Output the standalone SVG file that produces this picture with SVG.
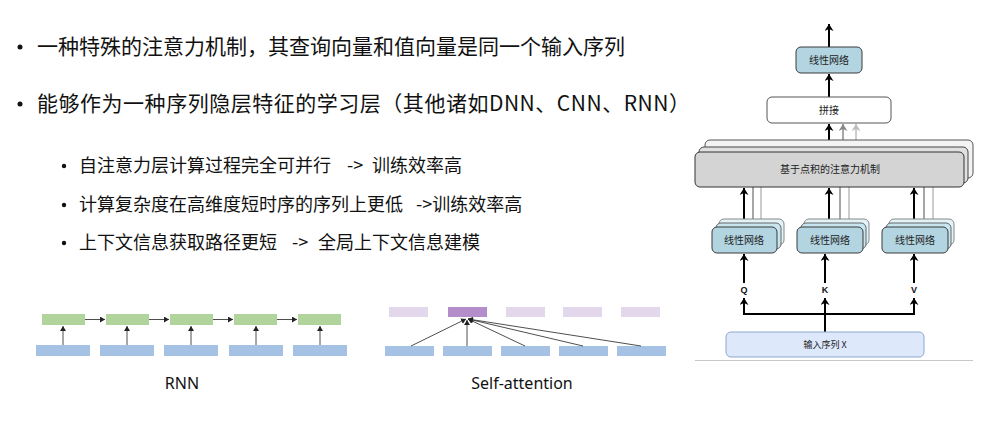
<svg xmlns="http://www.w3.org/2000/svg" width="991" height="433" viewBox="0 0 991 433">
<style>
.t1{font-family:"Noto Sans CJK SC","Noto Sans",sans-serif;font-size:21px;fill:#111;white-space:pre}
.t2{font-family:"Noto Sans CJK SC","Noto Sans",sans-serif;font-size:18px;fill:#111;white-space:pre}
.cap{font-family:"Noto Sans","Noto Sans CJK SC",sans-serif;font-size:16px;fill:#111;text-anchor:middle}
.lbl{font-family:"Noto Sans CJK SC","Noto Sans",sans-serif;font-size:10px;fill:#222;text-anchor:middle}
.qkv{font-family:"Liberation Sans",Arial,sans-serif;font-size:9px;font-weight:bold;fill:#111;text-anchor:middle}
.lin0{fill:#b2d5e1;stroke:#3a3a3a;stroke-width:1}
.lin1{fill:#c8e6ef;stroke:#666;stroke-width:1}
.lin2{fill:#e2f2f7;stroke:#888;stroke-width:1}
.blk{stroke:#000;stroke-width:2;fill:none}
.g1{stroke:#888;stroke-width:1.5;fill:none}
.g2{stroke:#bbb;stroke-width:1.5;fill:none}
.thin{stroke:#222;stroke-width:0.8;fill:none}
.grn{fill:#b1d49d}
.blu{fill:#a5c2e5}
.pl{fill:#e3d7ec}
.pd{fill:#b48dcb}
</style>
<defs>
<marker id="ab" markerUnits="userSpaceOnUse" markerWidth="8" markerHeight="9" refX="7" refY="4.5" orient="auto"><path d="M0,0 L7,4.5 L0,9 L2,4.5 z" fill="#000"/></marker>
<marker id="ag1" markerUnits="userSpaceOnUse" markerWidth="8" markerHeight="9" refX="7" refY="4.5" orient="auto"><path d="M0,0 L7,4.5 L0,9 L2,4.5 z" fill="#888"/></marker>
<marker id="ag2" markerUnits="userSpaceOnUse" markerWidth="8" markerHeight="9" refX="7" refY="4.5" orient="auto"><path d="M0,0 L7,4.5 L0,9 L2,4.5 z" fill="#bbb"/></marker>
<marker id="as" markerUnits="userSpaceOnUse" markerWidth="6" markerHeight="6" refX="5" refY="3" orient="auto"><path d="M0,0 L5,3 L0,6 z" fill="#222"/></marker>
</defs>

<g id="bullets">
<circle cx="20" cy="47" r="2.5" fill="#111"/>
<text class="t1" x="37" y="54">一种特殊的注意力机制，其查询向量和值向量是同一个输入序列</text>
<circle cx="20" cy="104" r="2.5" fill="#111"/>
<text class="t1" x="37" y="111" textLength="653" lengthAdjust="spacing">能够作为一种序列隐层特征的学习层（其他诸如DNN、CNN、RNN）</text>
<circle cx="64" cy="166" r="2.2" fill="#111"/>
<text class="t2" x="79" y="172">自注意力层计算过程完全可并行<tspan x="347">-&gt;</tspan><tspan x="372">训练效率高</tspan></text>
<circle cx="64" cy="205" r="2.2" fill="#111"/>
<text class="t2" x="79" y="211">计算复杂度在高维度短时序的序列上更低<tspan x="416">-&gt;训练效率高</tspan></text>
<circle cx="64" cy="243" r="2.2" fill="#111"/>
<text class="t2" x="79" y="249">上下文信息获取路径更短<tspan x="292">-&gt;</tspan><tspan x="318">全局上下文信息建模</tspan></text>
</g>

<g id="rnn">
<rect class="grn" x="42" y="314" width="43" height="11"/>
<rect class="grn" x="106" y="314" width="43" height="11"/>
<rect class="grn" x="170" y="314" width="43" height="11"/>
<rect class="grn" x="234" y="314" width="43" height="11"/>
<rect class="grn" x="298" y="314" width="43" height="11"/>
<rect class="blu" x="36" y="345" width="54" height="11"/>
<rect class="blu" x="100" y="345" width="54" height="11"/>
<rect class="blu" x="164" y="345" width="54" height="11"/>
<rect class="blu" x="229" y="345" width="54" height="11"/>
<rect class="blu" x="293" y="345" width="54" height="11"/>
<g>
<line class="thin" x1="63" y1="345" x2="63" y2="326" marker-end="url(#as)"/>
<line class="thin" x1="127" y1="345" x2="127" y2="326" marker-end="url(#as)"/>
<line class="thin" x1="191" y1="345" x2="191" y2="326" marker-end="url(#as)"/>
<line class="thin" x1="256" y1="345" x2="256" y2="326" marker-end="url(#as)"/>
<line class="thin" x1="320" y1="345" x2="320" y2="326" marker-end="url(#as)"/>
<line class="thin" x1="85" y1="319.5" x2="105" y2="319.5" marker-end="url(#as)"/>
<line class="thin" x1="149" y1="319.5" x2="169" y2="319.5" marker-end="url(#as)"/>
<line class="thin" x1="213" y1="319.5" x2="233" y2="319.5" marker-end="url(#as)"/>
<line class="thin" x1="277" y1="319.5" x2="297" y2="319.5" marker-end="url(#as)"/>
</g>
<text class="cap" x="182" y="389">RNN</text>
</g>

<g id="self-attention">
<rect class="pl" x="389" y="307" width="39" height="10"/>
<rect class="pd" x="448" y="307" width="39" height="10"/>
<rect class="pl" x="506" y="307" width="39" height="10"/>
<rect class="pl" x="563" y="307" width="39" height="10"/>
<rect class="pl" x="621" y="307" width="39" height="10"/>
<rect class="blu" x="385" y="346" width="49" height="10"/>
<rect class="blu" x="443" y="346" width="49" height="10"/>
<rect class="blu" x="501" y="346" width="49" height="10"/>
<rect class="blu" x="559" y="346" width="49" height="10"/>
<rect class="blu" x="617" y="346" width="49" height="10"/>
<g>
<line class="thin" x1="411" y1="346" x2="466" y2="319" marker-end="url(#as)"/>
<line class="thin" x1="467" y1="346" x2="467" y2="320" marker-end="url(#as)"/>
<line class="thin" x1="525" y1="346" x2="468" y2="319" marker-end="url(#as)"/>
<line class="thin" x1="583" y1="346" x2="468" y2="319" marker-end="url(#as)"/>
<line class="thin" x1="641" y1="346" x2="468" y2="319" marker-end="url(#as)"/>
</g>
<text class="cap" x="522" y="389">Self-attention</text>
</g>

<g id="connectors">
<line class="blk" x1="829" y1="47" x2="829" y2="24" marker-end="url(#ab)"/>
<line class="blk" x1="829" y1="97" x2="829" y2="74" marker-end="url(#ab)"/>
<line class="blk" x1="829" y1="152" x2="829" y2="124" marker-end="url(#ab)"/>
<line class="g1" x1="843" y1="147" x2="843" y2="124" marker-end="url(#ag1)"/>
<line class="g2" x1="856" y1="140" x2="856" y2="124" marker-end="url(#ag2)"/>
<line class="g1" x1="753" y1="223" x2="753" y2="187"/>
<line class="g2" x1="761" y1="219" x2="761" y2="187"/>
<line class="g1" x1="840" y1="223" x2="840" y2="187"/>
<line class="g2" x1="849" y1="219" x2="849" y2="187"/>
<line class="g1" x1="924" y1="223" x2="924" y2="187"/>
<line class="g2" x1="933" y1="219" x2="933" y2="187"/>
<line class="blk" x1="744" y1="227" x2="744" y2="188" marker-end="url(#ab)"/>
<line class="blk" x1="829" y1="227" x2="829" y2="188" marker-end="url(#ab)"/>
<line class="blk" x1="914" y1="227" x2="914" y2="188" marker-end="url(#ab)"/>
<line class="blk" x1="744" y1="283" x2="744" y2="254" marker-end="url(#ab)"/>
<line class="blk" x1="825" y1="283" x2="825" y2="254" marker-end="url(#ab)"/>
<line class="blk" x1="914" y1="283" x2="914" y2="254" marker-end="url(#ab)"/>
<polyline class="blk" points="744,314 914,314"/>
<line class="blk" x1="744" y1="315" x2="744" y2="298" marker-end="url(#ab)"/>
<line class="blk" x1="914" y1="315" x2="914" y2="298" marker-end="url(#ab)"/>
<line class="blk" x1="825" y1="332" x2="825" y2="298" marker-end="url(#ab)"/>
<line x1="695" y1="360.5" x2="973" y2="360.5" stroke="#c8c8c8" stroke-width="1"/>
</g>

<g id="linear-top">
<rect class="lin0" x="796" y="47" width="66" height="26" rx="5"/>
<text class="lbl" x="829" y="64">线性网络</text>
</g>

<g id="concat">
<rect x="767" y="97" width="124" height="26" rx="5" fill="#fff" stroke="#555"/>
<text class="lbl" x="829" y="114">拼接</text>
</g>

<g id="attention">
<rect x="705" y="140" width="268" height="38" rx="5" fill="#f3f3f3" stroke="#555"/>
<rect x="699" y="147" width="269" height="36" rx="5" fill="#e0e0e0" stroke="#444"/>
<rect x="695" y="152" width="269" height="35" rx="5" fill="#d4d4d4" stroke="#333"/>
<text class="lbl" x="830" y="173">基于点积的注意力机制</text>
</g>

<g id="linear-q">
<rect class="lin2" x="719" y="219" width="65" height="26" rx="5"/>
<rect class="lin1" x="716" y="223" width="65" height="26" rx="5"/>
<rect class="lin0" x="712" y="227" width="65" height="26" rx="5"/>
<text class="lbl" x="744" y="244">线性网络</text>
</g>
<g id="linear-k">
<rect class="lin2" x="804" y="219" width="65" height="26" rx="5"/>
<rect class="lin1" x="801" y="223" width="65" height="26" rx="5"/>
<rect class="lin0" x="797" y="227" width="66" height="26" rx="5"/>
<text class="lbl" x="830" y="244">线性网络</text>
</g>
<g id="linear-v">
<rect class="lin2" x="889" y="219" width="65" height="26" rx="5"/>
<rect class="lin1" x="886" y="223" width="65" height="26" rx="5"/>
<rect class="lin0" x="882" y="227" width="66" height="26" rx="5"/>
<text class="lbl" x="915" y="244">线性网络</text>
</g>

<g id="qkv-labels">
<text class="qkv" x="744" y="293">Q</text>
<text class="qkv" x="825" y="293">K</text>
<text class="qkv" x="914" y="293">V</text>
</g>

<g id="input">
<rect x="726" y="332" width="198" height="25" rx="5" fill="#dde8fb" stroke="#8ea6cc"/>
<text class="lbl" x="825" y="348" style="font-size:9px">输入序列 X</text>
</g>
</svg>
